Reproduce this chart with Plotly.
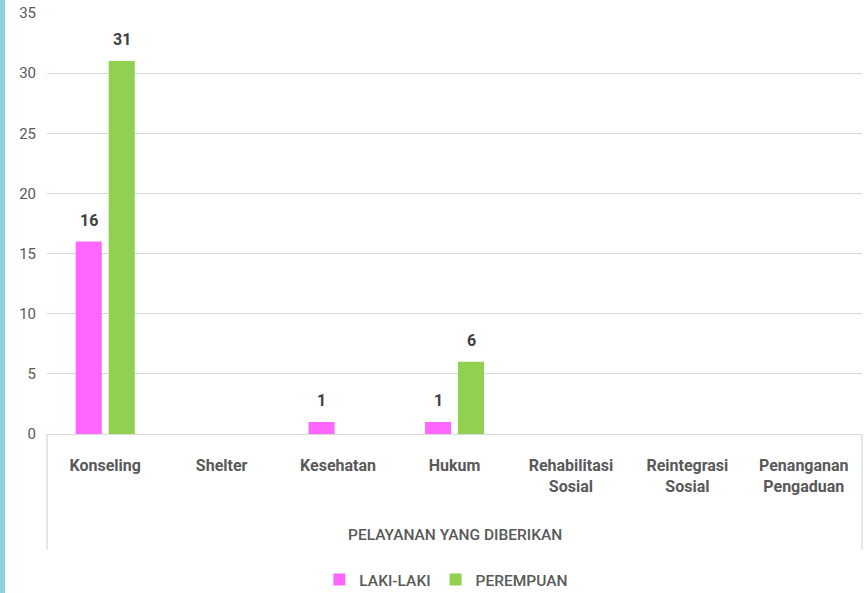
import plotly.graph_objects as go

categories = ["Konseling", "Shelter", "Kesehatan", "Hukum",
              "Rehabilitasi<br>Sosial", "Reintegrasi<br>Sosial", "Penanganan<br>Pengaduan"]
laki_laki = [16, 0, 1, 1, 0, 0, 0]
perempuan = [31, 0, 0, 6, 0, 0, 0]
y_ticks = [0, 5, 10, 15, 20, 25, 30, 35]

PINK = "#FF66FF"
GREEN = "#92D050"
TXT = "#595959"
FONT = "Roboto"

W, H = 865, 593
L, R, T, B = 47, 3, 13, 159
pw, ph = W - L - R, H - T - B

fig = go.Figure()
fig.add_trace(go.Bar(name="LAKI-LAKI", x=categories, y=laki_laki, marker_color=PINK,
                     marker_line_width=0))
fig.add_trace(go.Bar(name="PEREMPUAN", x=categories, y=perempuan, marker_color=GREEN,
                     marker_line_width=0))

annotations = []
for series, shift in ((laki_laki, -16.5), (perempuan, 16.5)):
    for c, v in zip(categories, series):
        if v:
            annotations.append(dict(x=c, y=v, xref="x", yref="y", text=str(v), showarrow=False,
                                    xshift=shift, yshift=10, yanchor="bottom",
                                    font=dict(family=FONT, size=16, color="#404040", weight="bold")))
annotations.append(dict(x=0.5, y=(434 - 535) / ph, xref="paper", yref="paper",
                        text="PELAYANAN YANG DIBERIKAN", showarrow=False, yanchor="middle",
                        font=dict(family=FONT, size=15.5, color=TXT, weight=500)))

shapes = [
    dict(type="line", xref="paper", yref="paper", x0=0, x1=0, y0=0, y1=(434 - 550) / ph,
         line=dict(color="#D9D9D9", width=1.3)),
    dict(type="line", xref="paper", yref="paper", x0=1.0, x1=1.0, y0=0, y1=(434 - 550) / ph,
         line=dict(color="#D9D9D9", width=1.3)),
    dict(type="rect", xref="paper", yref="paper", x0=-L / pw, x1=(5 - L) / pw,
         y0=(434 - H) / ph, y1=434 / ph, fillcolor="#8CD2DE", line=dict(width=0), layer="above"),
]

fig.update_layout(
    width=W, height=H,
    margin=dict(l=L, r=R, t=T, b=B, autoexpand=False),
    paper_bgcolor="white", plot_bgcolor="white",
    barmode="group", bargap=0.433, bargroupgap=0.21,
    font=dict(family=FONT, color=TXT),
    showlegend=True,
    legend=dict(orientation="h", x=0.49, xanchor="center", y=(434 - 580) / ph, yanchor="middle",
                font=dict(family=FONT, size=15.5, color=TXT, weight=500), itemwidth=30,
                traceorder="normal"),
    annotations=annotations, shapes=shapes,
)
fig.update_xaxes(showline=True, linecolor="#D9D9D9", linewidth=1.3, showgrid=False, automargin=False,
                 tickfont=dict(family=FONT, size=16, color=TXT, weight="bold"),
                 ticks="", ticklabelstandoff=17)
fig.update_yaxes(range=[0, 35], tickvals=y_ticks, showgrid=True, gridcolor="#D9D9D9", gridwidth=1.3,
                 zeroline=False, showline=False, ticks="", automargin=False,
                 tickfont=dict(family=FONT, size=15, color=TXT), ticklabelstandoff=10)

fig.write_html("out.html", config={"displayModeBar": False},
               post_script="document.body.style.margin='0';")
